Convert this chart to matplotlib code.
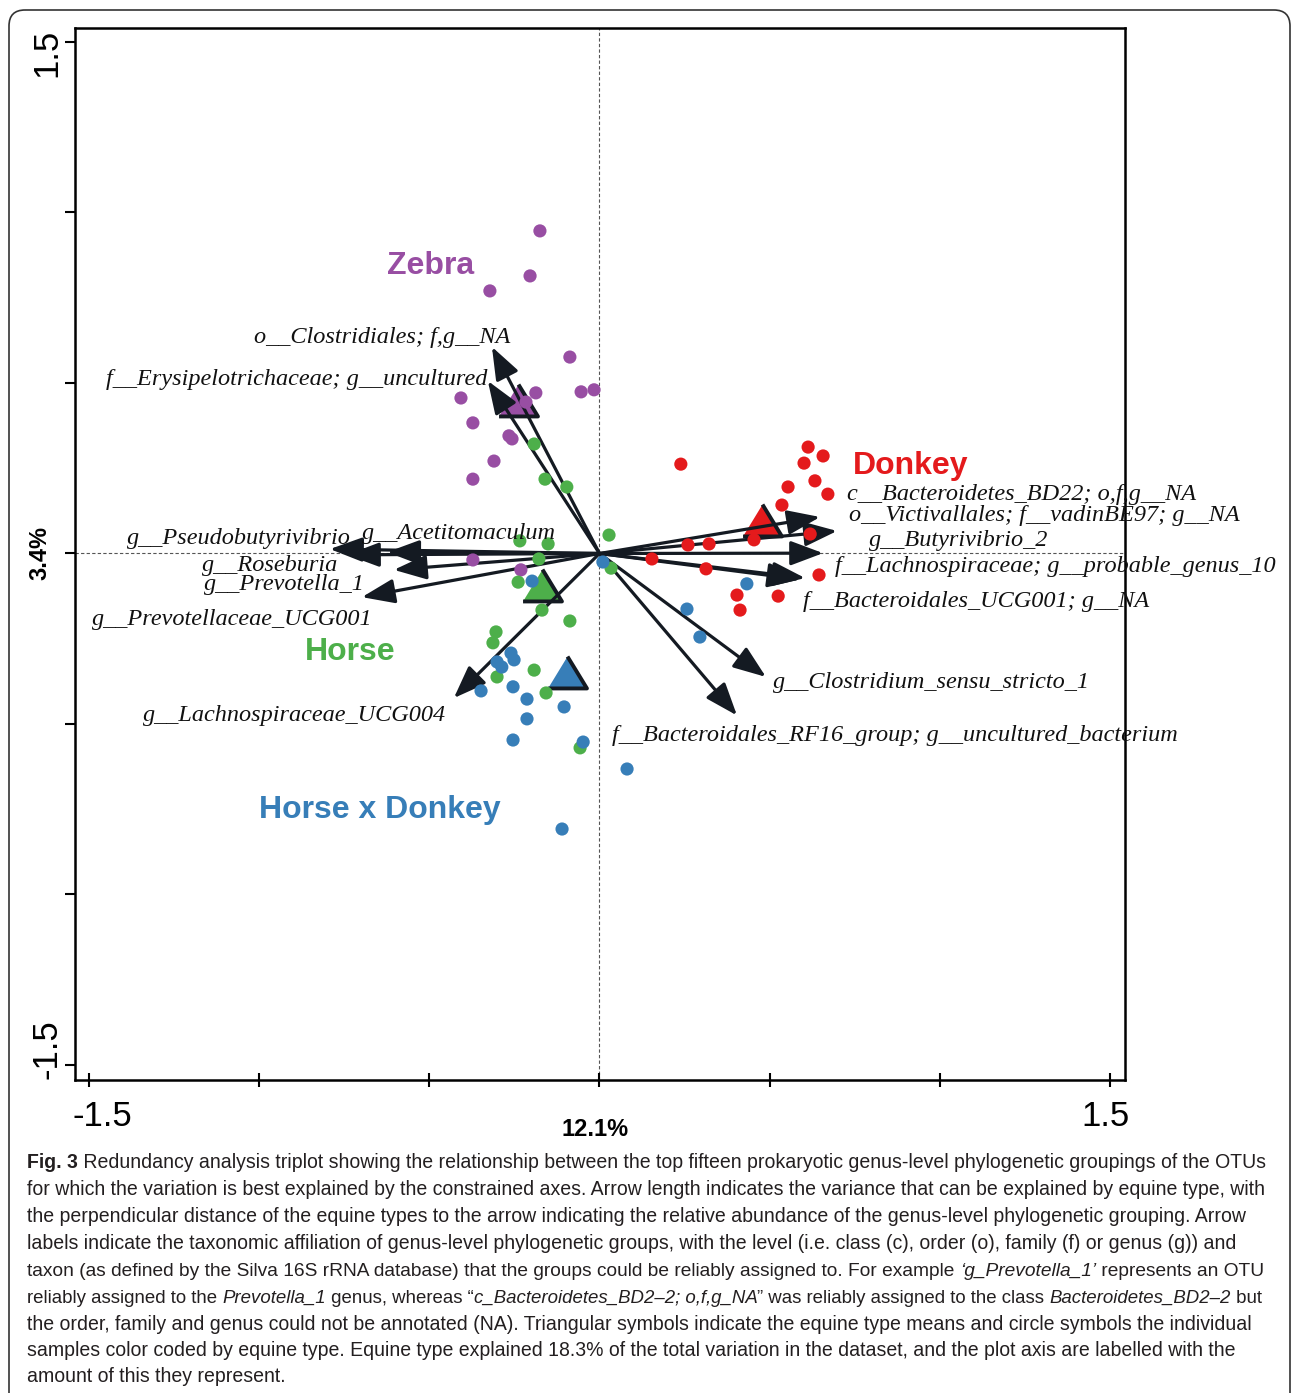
import matplotlib
matplotlib.use('Agg')
import matplotlib.pyplot as plt
from matplotlib.patches import FancyBboxPatch

plt.rcParams['font.family'] = ['Liberation Sans', 'DejaVu Sans']

# sample scores on RDA1 / RDA2
zebra_x = [-0.175, -0.204, -0.322, -0.087, -0.054, -0.016, -0.187, -0.216,
           -0.407, -0.372, -0.266, -0.257, -0.310, -0.372, -0.372, -0.231]
zebra_y = [0.946, 0.814, 0.770, 0.576, 0.474, 0.480, 0.471, 0.444,
           0.456, 0.383, 0.345, 0.336, 0.271, 0.218, -0.019, -0.048]

donkey_x = [0.239, 0.613, 0.657, 0.601, 0.554, 0.633, 0.671, 0.536, 0.619,
            0.454, 0.322, 0.260, 0.154, 0.313, 0.645, 0.404, 0.525, 0.413]
donkey_y = [0.262, 0.312, 0.286, 0.265, 0.195, 0.213, 0.174, 0.142, 0.057,
            0.040, 0.028, 0.025, -0.016, -0.045, -0.063, -0.122, -0.125, -0.166]

horse_x = [-0.192, -0.160, -0.096, 0.028, -0.234, -0.151, -0.178, 0.034, -0.239,
           -0.169, -0.087, -0.304, -0.313, -0.192, -0.301, -0.157, -0.057]
horse_y = [0.321, 0.218, 0.195, 0.054, 0.037, 0.028, -0.016, -0.043, -0.084,
           -0.166, -0.198, -0.230, -0.262, -0.342, -0.362, -0.409, -0.570]

hxd_x = [0.010, -0.198, 0.433, 0.257, 0.295, -0.260, -0.251, -0.301, -0.287,
         -0.348, -0.254, -0.213, -0.104, -0.213, -0.254, -0.048, 0.081, -0.110]
hxd_y = [-0.025, -0.081, -0.089, -0.163, -0.245, -0.292, -0.312, -0.318, -0.333,
         -0.403, -0.391, -0.427, -0.450, -0.485, -0.547, -0.553, -0.632, -0.808]

# equine type means (triangles)
groups = ['Zebra', 'Donkey', 'Horse', 'Horse x Donkey']
colors = ['#984EA3', '#E41A1C', '#4DAF4A', '#377EB8']
mean_x = [-0.240, 0.478, -0.169, -0.096]
mean_y = [0.450, 0.098, -0.091, -0.348]

# taxa arrows (tips)
taxa = ['o__Clostridiales; f,g__NA',
        'f__Erysipelotrichaceae; g__uncultured',
        'g__Pseudobutyrivibrio',
        'g__Acetitomaculum',
        'g__Roseburia',
        'g__Prevotella_1',
        'g__Prevotellaceae_UCG001',
        'g__Lachnospiraceae_UCG004',
        'c__Bacteroidetes_BD22; o,f,g__NA',
        'o__Victivallales; f__vadinBE97; g__NA',
        'g__Butyrivibrio_2',
        'f__Lachnospiraceae; g__probable_genus_10',
        'f__Bacteroidales_UCG001; g__NA',
        'g__Clostridium_sensu_stricto_1',
        'f__Bacteroidales_RF16_group; g__uncultured_bacterium']
arrow_x = [-0.316, -0.328, -0.792, -0.624, -0.742, -0.604, -0.698, -0.428,
           0.648, 0.698, 0.657, 0.604, 0.590, 0.489, 0.404]
arrow_y = [0.606, 0.506, 0.013, 0.004, -0.004, -0.048, -0.128, -0.424,
           0.107, 0.066, 0.001, -0.072, -0.076, -0.362, -0.475]

# where the arrow labels sit (x, y, ha)
label_pos = [(-0.263, 0.632, 'right'), (-0.328, 0.511, 'right'),
             (-1.388, 0.045, 'left'), (-0.698, 0.060, 'left'),
             (-0.768, -0.034, 'right'), (-0.689, -0.092, 'right'),
             (-0.668, -0.195, 'right'), (-0.451, -0.474, 'right'),
             (0.727, 0.174, 'left'), (0.733, 0.110, 'left'),
             (0.792, 0.037, 'left'), (0.692, -0.037, 'left'),
             (0.598, -0.142, 'left'), (0.510, -0.377, 'left'),
             (0.037, -0.535, 'left')]
group_label_pos = [(-0.495, 0.843), (0.915, 0.257), (-0.733, -0.289), (-0.645, -0.752)]

fig = plt.figure(figsize=(12.93, 13.93), dpi=100)
ax = fig.add_axes([75 / 1293, 313 / 1393, 1050 / 1293, 1052 / 1393])
ax.set_xlim(-1.541, 1.544)
ax.set_ylim(-1.544, 1.541)

ax.axhline(0, color='#555555', lw=0.8, ls=(0, (3, 2)), zorder=0.5)
ax.axvline(0, color='#555555', lw=0.8, ls=(0, (3, 2)), zorder=0.5)

arrow_col = '#141a22'
tri = [(-1, -0.82), (1, -0.82), (0, 0.82)]
for mx, my, c in zip(mean_x, mean_y, colors):
    ax.plot(mx, my, marker=tri, ms=28, mfc=c, mec=arrow_col, mew=2.8, zorder=2)

for ex, ey in zip(arrow_x, arrow_y):
    ax.annotate('', xy=(ex, ey), xytext=(0, 0),
                arrowprops=dict(arrowstyle='-|>,head_length=2.0,head_width=0.75',
                                mutation_scale=10, lw=2.3, color=arrow_col,
                                shrinkA=0, shrinkB=0), zorder=3)

for xs, ys, c in [(zebra_x, zebra_y, colors[0]), (donkey_x, donkey_y, colors[1]),
                  (horse_x, horse_y, colors[2]), (hxd_x, hxd_y, colors[3])]:
    ax.scatter(xs, ys, s=90, color=c, edgecolors='none', zorder=4)

for name, (lx, ly, ha) in zip(taxa, label_pos):
    ax.text(lx, ly, name, ha=ha, va='center', fontsize=17.5, style='italic',
            family='Liberation Serif', color='#111111', zorder=5, clip_on=False)

for g, c, (gx, gy) in zip(groups, colors, group_label_pos):
    ax.text(gx, gy, g, ha='center', va='center', fontsize=23, fontweight='bold',
            color=c, zorder=5)

# axes styling
for sp in ax.spines.values():
    sp.set_linewidth(1.8)
ax.set_xticks([-1.5, -1, -0.5, 0, 0.5, 1, 1.5])
ax.set_yticks([-1.5, -1, -0.5, 0, 0.5, 1, 1.5])
ax.set_xticklabels([])
ax.set_yticklabels([])
ax.tick_params(axis='x', direction='inout', length=10, width=1.5)
ax.tick_params(axis='y', direction='out', length=7, width=1.5)

ax.text(-1.462, -1.650, '-1.5', ha='center', va='center', fontsize=25, clip_on=False)
ax.text(1.486, -1.650, '1.5', ha='center', va='center', fontsize=25, clip_on=False)
ax.text(-1.624, 1.468, '1.5', ha='center', va='center', rotation=90, fontsize=25, clip_on=False)
ax.text(-1.624, -1.453, '-1.5', ha='center', va='center', rotation=90, fontsize=25, clip_on=False)
ax.text(-0.013, -1.690, '12.1%', ha='center', va='center', fontsize=17, fontweight='bold',
        clip_on=False)
ax.text(-1.644, 0, '3.4%', ha='center', va='center', rotation=90, fontsize=17,
        fontweight='bold', clip_on=False)

# page overlay: frame and caption, in pixel units
cap = fig.add_axes([0, 0, 1, 1], zorder=-1)
cap.axis('off')
cap.set_xlim(0, 1293)
cap.set_ylim(1393, 0)
cap.add_patch(FancyBboxPatch((9, 10), 1281, 1420, boxstyle='round,pad=0,rounding_size=16',
                             fc='none', ec='#333333', lw=1.2, clip_on=False))

caption = [
    [('Fig. 3', 'bold', 'normal'),
     (' Redundancy analysis triplot showing the relationship between the top fifteen prokaryotic '
      'genus-level phylogenetic groupings of the OTUs', 'normal', 'normal')],
    [('for which the variation is best explained by the constrained axes. Arrow length indicates '
      'the variance that can be explained by equine type, with', 'normal', 'normal')],
    [('the perpendicular distance of the equine types to the arrow indicating the relative abundance '
      'of the genus-level phylogenetic grouping. Arrow', 'normal', 'normal')],
    [('labels indicate the taxonomic affiliation of genus-level phylogenetic groups, with the level '
      '(i.e. class (c), order (o), family (f) or genus (g)) and', 'normal', 'normal')],
    [('taxon (as defined by the Silva 16S rRNA database) that the groups could be reliably assigned '
      'to. For example ', 'normal', 'normal'),
     ('\u2018g_Prevotella_1\u2019', 'normal', 'italic'),
     (' represents an OTU', 'normal', 'normal')],
    [('reliably assigned to the ', 'normal', 'normal'),
     ('Prevotella_1', 'normal', 'italic'),
     (' genus, whereas \u201c', 'normal', 'normal'),
     ('c_Bacteroidetes_BD2\u20132; o,f,g_NA', 'normal', 'italic'),
     ('\u201d was reliably assigned to the class ', 'normal', 'normal'),
     ('Bacteroidetes_BD2\u20132', 'normal', 'italic'),
     (' but', 'normal', 'normal')],
    [('the order, family and genus could not be annotated (NA). Triangular symbols indicate the '
      'equine type means and circle symbols the individual', 'normal', 'normal')],
    [('samples color coded by equine type. Equine type explained 18.3% of the total variation in the '
      'dataset, and the plot axis are labelled with the', 'normal', 'normal')],
    [('amount of this they represent.', 'normal', 'normal')],
]
line_centres = [1163, 1190, 1217, 1244, 1271, 1298, 1325, 1351, 1377]

cap_texts = []
for yc, parts in zip(line_centres, caption):
    prev = None
    row = []
    for s, w, st in parts:
        kw = dict(fontsize=14, color='#231f20', fontweight=w, fontstyle=st,
                  ha='left', va='bottom')
        if prev is None:
            t = cap.text(27, yc + 9, s, **kw)
        else:
            t = cap.annotate(s, xy=(1, 0), xycoords=prev, **kw)
        row.append(t)
        prev = t
    cap_texts.append(row)


def row_width(row, r):
    return row[-1].get_window_extent(r).x1 - row[0].get_window_extent(r).x0


# scale caption so the first line spans the text block width,
# then shrink any line that would still run past the frame
fig.canvas.draw()
r = fig.canvas.get_renderer()
k = 1245 / row_width(cap_texts[0], r)
for row in cap_texts:
    for t in row:
        t.set_fontsize(14 * k)
fig.canvas.draw()
for row in cap_texts:
    w = row_width(row, r)
    if w > 1250:
        for t in row:
            t.set_fontsize(t.get_fontsize() * 1240 / w)

fig.savefig('out.png', dpi=100)
